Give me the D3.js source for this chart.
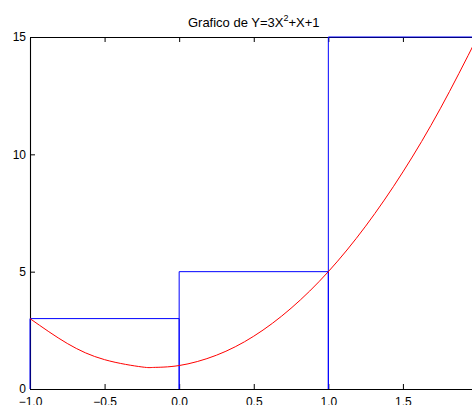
<!DOCTYPE html>
<html>
<head>
<meta charset="utf-8">
<script src="https://cdn.jsdelivr.net/npm/d3@7"></script>
<style>
  html, body { margin: 0; padding: 0; background: #fff; overflow: hidden; }
  svg { display: block; }
  text { font-family: "Liberation Sans", Arial, Helvetica, sans-serif; }
</style>
</head>
<body>
<div id="chart"></div>
<script>
// values
const curveX = [-1, -0.75, -0.5, -0.25, -0.17, 0, 0.25, 0.5, 0.75, 1, 1.25, 1.5, 1.75, 2];
const curveY = [3, 1.94, 1.25, 0.94, 0.92, 1, 1.44, 2.25, 3.44, 5, 6.94, 9.25, 11.94, 15];

// outlined bars (left edge, height), each 1 unit wide
const barX = [-1, 0, 1];
const barH = [3, 5, 15];
const barW = 1;

const xTicks = [-1, -0.5, 0, 0.5, 1, 1.5];
const yTicks = [0, 5, 10, 15];
const titleMain = 'Grafico de Y=3X';
const titleSup = '2';
const titleRest = '+X+1';

const W = 472, H = 405;
const margin = { top: 37, left: 30, bottom: 16 };
const plotW = 447.5; // axis runs past the window edge, like the original
const plotH = H - margin.top - margin.bottom;

const svg = d3.select('#chart').append('svg')
  .attr('width', W)
  .attr('height', H);

const g = svg.append('g')
  .attr('transform', 'translate(' + margin.left + ',' + margin.top + ')');

const x = d3.scaleLinear().domain([-1, 2]).range([0, plotW]);
const y = d3.scaleLinear().domain([0, 15]).range([plotH, 0]);

// axes box with inward ticks
const tickLen = 5;
g.append('g')
  .attr('transform', 'translate(0,' + plotH + ')')
  .call(d3.axisBottom(x).tickValues(xTicks).tickSize(-tickLen).tickSizeOuter(0).tickPadding(8));
g.append('g')
  .call(d3.axisTop(x).tickValues(xTicks).tickSize(-tickLen).tickSizeOuter(0).tickFormat(''));
g.append('g')
  .call(d3.axisLeft(y).tickValues(yTicks).tickSize(-tickLen).tickSizeOuter(0).tickPadding(4));

g.selectAll('.domain').attr('stroke', '#000').attr('stroke-width', 1.1);
g.selectAll('.tick line').attr('stroke', '#000');
g.selectAll('.tick text')
  .attr('fill', '#000')
  .style('font-size', '12px');

// blue bar outlines (sides and top only, the base sits on the axis)
const barPath = (d, i) => {
  const x0 = x(d), x1 = x(d + barW), y0 = y(0), y1 = y(barH[i]);
  return 'M' + x0 + ',' + y0 + 'V' + y1 + 'H' + x1 + 'V' + y0;
};
g.append('g')
  .selectAll('path')
  .data(barX)
  .enter()
  .append('path')
  .attr('d', barPath)
  .attr('fill', 'none')
  .attr('stroke', '#0000ff')
  .attr('stroke-width', 1);

// red curve
const pts = curveX.map((v, i) => [v, curveY[i]]);
const line = d3.line()
  .x(d => x(d[0]))
  .y(d => y(d[1]))
  .curve(d3.curveNatural);
g.append('path')
  .datum(pts)
  .attr('d', line)
  .attr('fill', 'none')
  .attr('stroke', '#ff0000')
  .attr('stroke-width', 1);

// title with superscript
const title = svg.append('text')
  .attr('x', margin.left + plotW / 2)
  .attr('y', 27)
  .attr('text-anchor', 'middle')
  .style('font-size', '13px')
  .attr('fill', '#000');
title.append('tspan').text(titleMain);
title.append('tspan').attr('dy', -6).style('font-size', '9px').text(titleSup);
title.append('tspan').attr('dy', 6).text(titleRest);
</script>
</body>
</html>
